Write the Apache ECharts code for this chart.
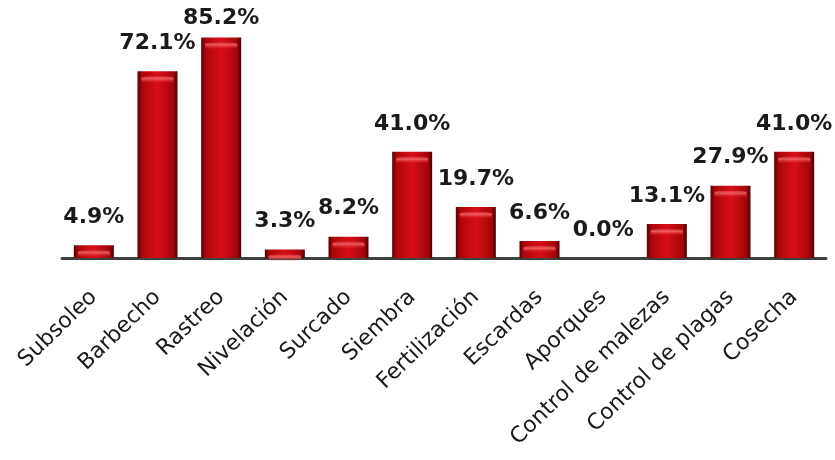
<!DOCTYPE html>
<html>
<head>
<meta charset="utf-8">
<script src="https://cdn.jsdelivr.net/npm/echarts@6/dist/echarts.min.js"></script>
<style>
  html, body { margin: 0; padding: 0; background: #ffffff; }
  #chart { width: 835px; height: 460px; }
</style>
</head>
<body>
<div id="chart"></div>
<script>
// Labores del cultivo y porcentaje de productores que las realizan
const categories = ['Subsoleo', 'Barbecho', 'Rastreo', 'Nivelación', 'Surcado', 'Siembra',
  'Fertilización', 'Escardas', 'Aporques', 'Control de malezas', 'Control de plagas', 'Cosecha'];
const percentages = [4.9, 72.1, 85.2, 3.3, 8.2, 41.0, 19.7, 6.6, 0.0, 13.1, 27.9, 41.0];

const chart = echarts.init(document.getElementById('chart'));

// Bevelled red fill: dark edges, bright centre
const barFill = new echarts.graphic.LinearGradient(0, 0, 1, 0, [
  { offset: 0, color: '#560000' },
  { offset: 0.1, color: '#a8060a' },
  { offset: 0.5, color: '#d80f16' },
  { offset: 0.9, color: '#a0050a' },
  { offset: 1, color: '#480000' }
]);

// Glossy highlight just under the top edge of each bar
const capFill = new echarts.graphic.LinearGradient(0, 0, 0, 1, [
  { offset: 0, color: 'rgba(255,140,140,0.25)' },
  { offset: 0.35, color: 'rgba(255,120,120,0.7)' },
  { offset: 1, color: 'rgba(230,30,30,0.0)' }
]);

// The tallest bar keeps its value label close so it stays inside the canvas
const barData = percentages.map(v => ({
  value: v,
  label: v > 80 ? { distance: 8 } : undefined
}));

chart.setOption({
  animation: false,
  backgroundColor: '#ffffff',
  grid: { left: 62, right: 9, top: 25, bottom: 202, containLabel: false },
  xAxis: {
    type: 'category',
    data: categories,
    axisLine: { show: true, lineStyle: { color: '#3f3f3f', width: 3 } },
    axisTick: { show: false },
    axisLabel: {
      rotate: 44,
      margin: 36,
      interval: 0,
      color: '#1a1a1a',
      fontSize: 22,
      fontFamily: 'DejaVu Sans'
    }
  },
  yAxis: {
    type: 'value',
    min: 0,
    max: 90,
    show: false,
    splitLine: { show: false }
  },
  series: [{
    type: 'bar',
    data: barData,
    barWidth: 40,
    itemStyle: { color: barFill },
    label: {
      show: true,
      position: 'top',
      distance: 17,
      color: '#1a1a1a',
      fontSize: 22,
      fontWeight: 'bold',
      fontFamily: 'DejaVu Sans',
      formatter: p => p.value.toFixed(1) + '%'
    },
    z: 2
  }, {
    type: 'pictorialBar',
    data: percentages.map(v => (v > 0 ? v : '-')),
    symbol: 'roundRect',
    symbolSize: [32, 7],
    symbolPosition: 'end',
    symbolOffset: [0, 5],
    itemStyle: { color: capFill },
    silent: true,
    z: 3
  }]
});
</script>
</body>
</html>
